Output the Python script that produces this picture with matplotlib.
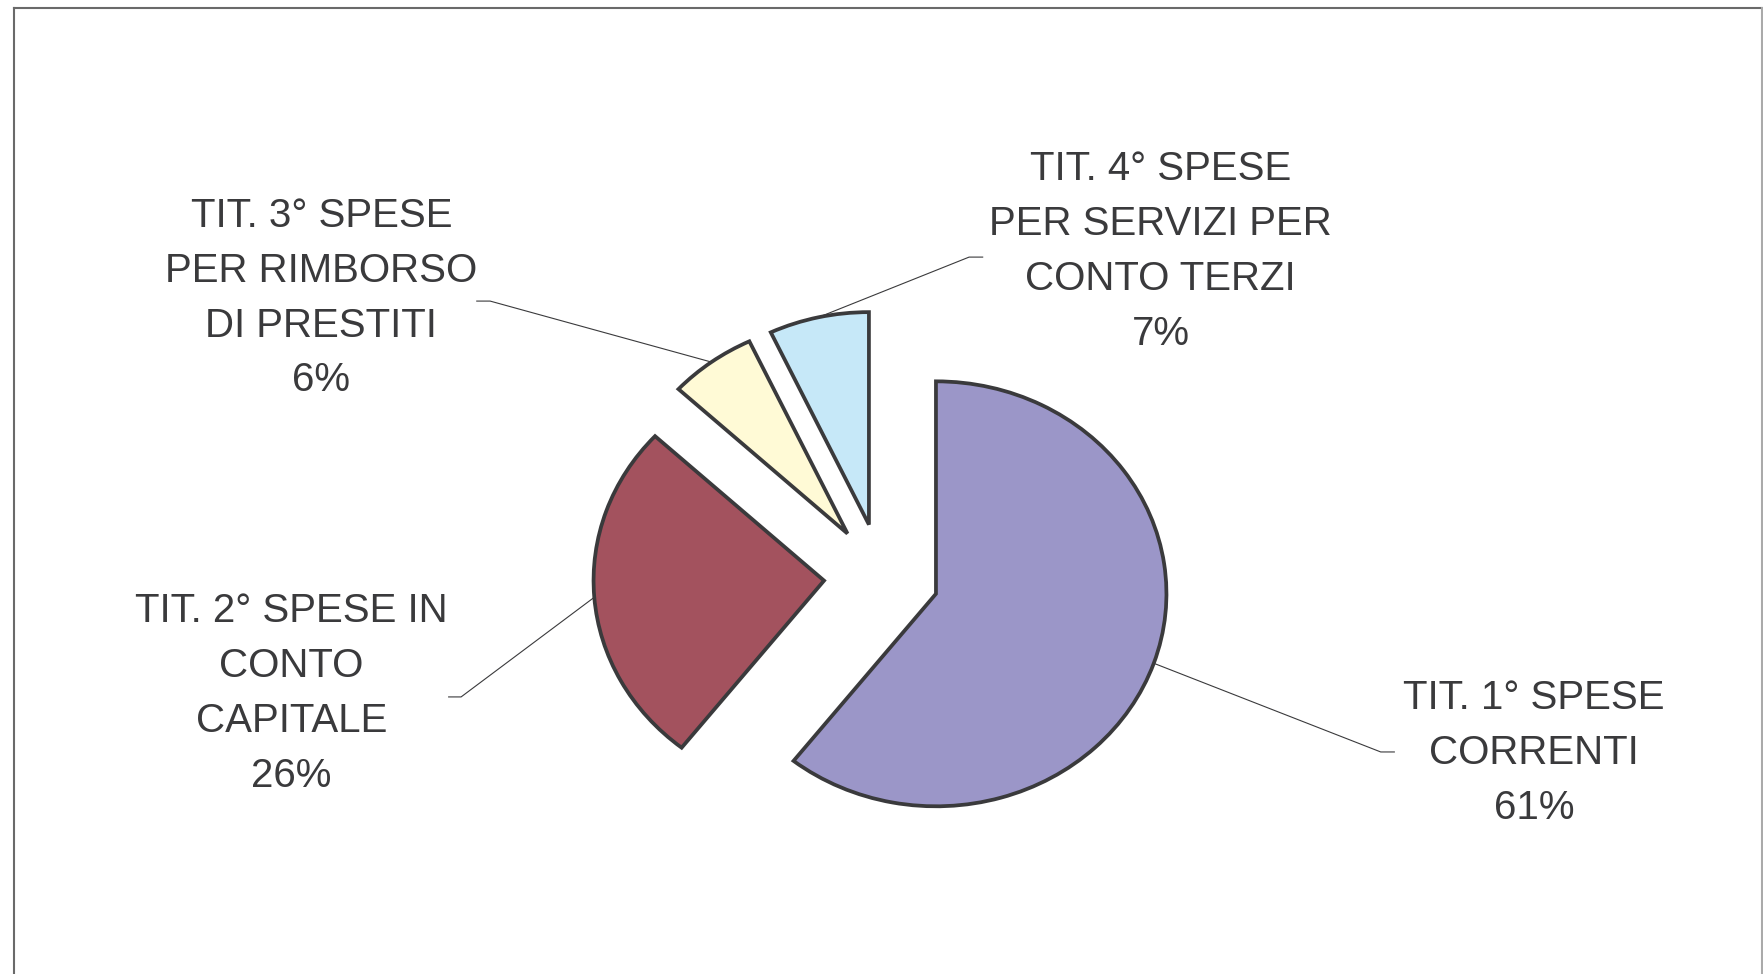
import matplotlib.pyplot as plt
import numpy as np

# Dati
labels = ['TIT. 1° SPESE\nCORRENTI', 'TIT. 2° SPESE IN\nCONTO\nCAPITALE',
          'TIT. 3° SPESE\nPER RIMBORSO\nDI PRESTITI', 'TIT. 4° SPESE\nPER SERVIZI PER\nCONTO TERZI']
values = [60.6, 26.3, 6.1, 7.0]
colors = ['#9B96C8', '#A3525E', '#FFFAD6', '#C6E8F8']

# posizione delle etichette (coordinate dati) e gomito della linea guida
label_pos = [(2.83, -0.83), (-2.56, -0.55), (-2.43, 1.31), (1.21, 1.53)]
elbow_pos = [(2.166, -0.826), (-1.824, -0.567), (-1.698, 1.296), (0.380, 1.503)]
elbow_end = [2.225, -1.878, -1.756, 0.439]

text_col = '#3a3a3c'
explode = 0.25

fig = plt.figure(figsize=(17.63, 9.74), dpi=100)
ax = fig.add_axes([0, 0, 1, 1])

wedges, _ = ax.pie(values, colors=colors, startangle=90, counterclock=False,
                   explode=[explode] * len(values), radius=1.0,
                   wedgeprops=dict(edgecolor='#3a3a3c', linewidth=2.7, joinstyle='miter'))
# pie() imposta i limiti: li sovrascrivo dopo
ax.set_aspect('auto')
ax.set_xlim(-3.8245, 3.8245)
ax.set_ylim(-1.871, 2.713)
ax.axis('off')

total = sum(values)
for w, lab, v, lp, ep, ex in zip(wedges, labels, values, label_pos, elbow_pos, elbow_end):
    ang = np.deg2rad((w.theta1 + w.theta2) / 2)
    sx = (1 + explode) * np.cos(ang)
    sy = (1 + explode) * np.sin(ang)
    ax.plot([sx, ep[0], ex], [sy, ep[1], ep[1]], color='#3a3a3c', lw=0.8, zorder=0)
    pct = round(100 * v / total)
    ax.text(lp[0], lp[1], f'{lab}\n{pct}%', ha='center', va='center',
            fontsize=29, color=text_col, family='Liberation Sans', linespacing=1.56)

# cornice
fig.add_artist(plt.Line2D([14 / 1763, 14 / 1763], [0, 1 - 8 / 974], color='#6a6a6a', lw=1.5))
fig.add_artist(plt.Line2D([14 / 1763, 1762 / 1763], [1 - 8 / 974, 1 - 8 / 974], color='#6a6a6a', lw=1.5))
fig.add_artist(plt.Line2D([1762 / 1763, 1762 / 1763], [0, 1 - 8 / 974], color='#aaaaaa', lw=1.5))

plt.savefig('out.png', dpi=100)
